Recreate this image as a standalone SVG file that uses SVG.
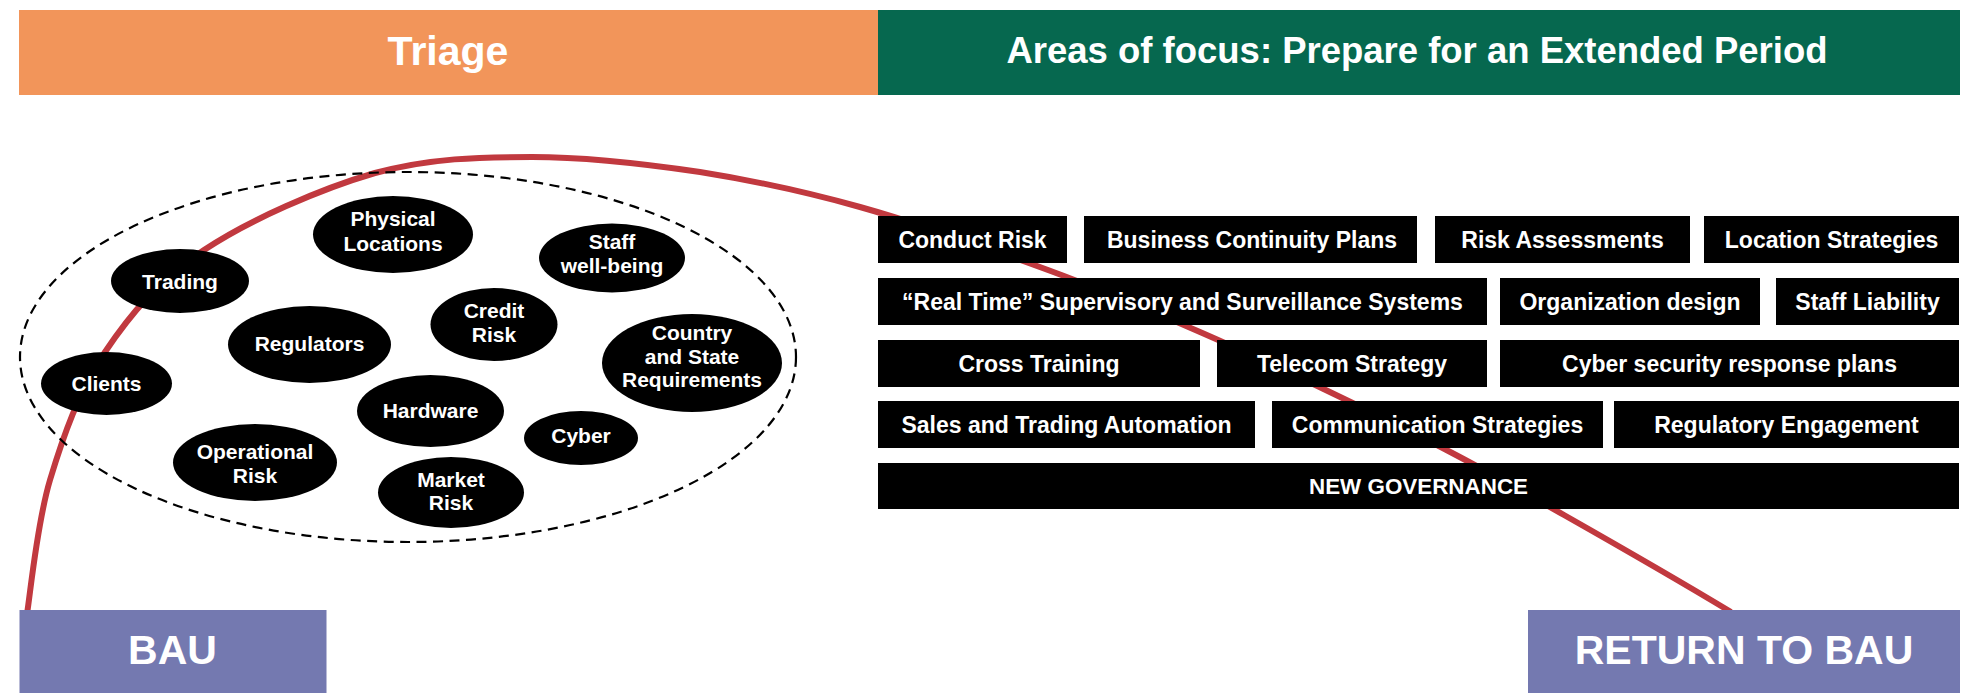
<svg xmlns="http://www.w3.org/2000/svg" width="1970" height="693" viewBox="0 0 1970 693">
<style>
text{font-family:"Liberation Sans",Arial,sans-serif;font-weight:bold;fill:#fff;text-anchor:middle}
.hdr{font-size:37px}
.bub{fill:#000}
.bt{font-size:21px}
.box{fill:#000}
.bx{font-size:23px}
.bau{fill:#7479B0}
.baut{font-size:41px}
.curve{fill:none;stroke:#C1393F;stroke-width:6}
.dash{fill:none;stroke:#000;stroke-width:2.2;stroke-dasharray:10 6.5}
</style>
<rect width="1970" height="693" fill="#fff"/>
<g id="triage">
<rect x="19" y="10" width="859" height="85" fill="#F2955A"/>
<text x="448" y="65" style="font-size:41px">Triage</text>
</g>
<g id="areas-of-focus">
<rect x="878" y="10" width="1082" height="85" fill="#06684F"/>
<text class="hdr" x="1417" y="63" textLength="821" lengthAdjust="spacingAndGlyphs">Areas of focus: Prepare for an Extended Period</text>
</g>
<g id="connectors">
<path class="curve" d="M27,614 C30.8,590 37,523.3 50,480 C63,436.7 79.3,390.3 105,352 C130.7,313.7 159,280 204,250 C249,220 320,189 375,173 C430,158 479.8,157 532,157 C588.2,157 645.7,164 700,172 C754.3,180.7 802,190.7 860,207 C918,223.3 991.3,249.2 1048,270 C1104.7,290.8 1152.3,311.3 1200,332 C1247.7,352.7 1291.3,373.5 1334,394 C1376.7,414.5 1417.7,434.8 1456,455 C1494.3,475.2 1518.5,489.2 1564,515 C1609.5,540.8 1701.5,594.2 1731,612"/>
</g>
<g id="triage-group">
<ellipse class="dash" cx="408" cy="357" rx="388" ry="185"/>
</g>
<g id="physical-locations"><ellipse class="bub" cx="393" cy="234.5" rx="80" ry="38.5"/><text class="bt" x="393" y="226">Physical</text><text class="bt" x="393" y="251">Locations</text></g>
<g id="staff-well-being"><ellipse class="bub" cx="612" cy="258" rx="73" ry="34.5"/><text class="bt" x="612" y="249">Staff</text><text class="bt" x="612" y="273">well-being</text></g>
<g id="trading"><ellipse class="bub" cx="180" cy="281" rx="69" ry="32"/><text class="bt" x="180" y="288.5">Trading</text></g>
<g id="credit-risk"><ellipse class="bub" cx="494" cy="324.5" rx="63.5" ry="36.5"/><text class="bt" x="494" y="318">Credit</text><text class="bt" x="494" y="342">Risk</text></g>
<g id="regulators"><ellipse class="bub" cx="309.5" cy="344.5" rx="81.5" ry="38.5"/><text class="bt" x="309.5" y="351">Regulators</text></g>
<g id="country-state"><ellipse class="bub" cx="692" cy="363" rx="90" ry="49"/><text class="bt" x="692" y="340">Country</text><text class="bt" x="692" y="363.5">and State</text><text class="bt" x="692" y="387">Requirements</text></g>
<g id="clients"><ellipse class="bub" cx="106.5" cy="383.5" rx="65.5" ry="31.5"/><text class="bt" x="106.5" y="391">Clients</text></g>
<g id="hardware"><ellipse class="bub" cx="430.5" cy="411" rx="73.5" ry="36"/><text class="bt" x="430.5" y="418">Hardware</text></g>
<g id="cyber"><ellipse class="bub" cx="581" cy="438" rx="57" ry="27"/><text class="bt" x="581" y="443">Cyber</text></g>
<g id="operational-risk"><ellipse class="bub" cx="255" cy="462.5" rx="82" ry="38.5"/><text class="bt" x="255" y="459">Operational</text><text class="bt" x="255" y="482.5">Risk</text></g>
<g id="market-risk"><ellipse class="bub" cx="451" cy="492.5" rx="73" ry="35.5"/><text class="bt" x="451" y="487">Market</text><text class="bt" x="451" y="510">Risk</text></g>

<g id="conduct-risk"><rect class="box" x="878" y="216" width="189" height="47"/><text class="bx" x="972.5" y="247.5">Conduct Risk</text></g>
<g id="business-continuity"><rect class="box" x="1084" y="216" width="333" height="47"/><text class="bx" x="1252" y="247.5">Business Continuity Plans</text></g>
<g id="risk-assessments"><rect class="box" x="1435" y="216" width="255" height="47"/><text class="bx" x="1562.5" y="247.5">Risk Assessments</text></g>
<g id="location-strategies"><rect class="box" x="1704" y="216" width="255" height="47"/><text class="bx" x="1831.5" y="247.5">Location Strategies</text></g>

<g id="real-time"><rect class="box" x="878" y="278" width="609" height="47"/><text class="bx" x="1182.5" y="309.5">“Real Time” Supervisory and Surveillance Systems</text></g>
<g id="organization-design"><rect class="box" x="1500" y="278" width="260" height="47"/><text class="bx" x="1630" y="309.5">Organization design</text></g>
<g id="staff-liability"><rect class="box" x="1776" y="278" width="183" height="47"/><text class="bx" x="1867.5" y="309.5">Staff Liability</text></g>

<g id="cross-training"><rect class="box" x="878" y="340" width="322" height="47"/><text class="bx" x="1039" y="371.5">Cross Training</text></g>
<g id="telecom-strategy"><rect class="box" x="1217" y="340" width="270" height="47"/><text class="bx" x="1352" y="371.5">Telecom Strategy</text></g>
<g id="cyber-security"><rect class="box" x="1500" y="340" width="459" height="47"/><text class="bx" x="1729.5" y="371.5">Cyber security response plans</text></g>

<g id="sales-trading"><rect class="box" x="878" y="401" width="377" height="47"/><text class="bx" x="1066.5" y="432.5">Sales and Trading Automation</text></g>
<g id="communication"><rect class="box" x="1272" y="401" width="331" height="47"/><text class="bx" x="1437.5" y="432.5">Communication Strategies</text></g>
<g id="regulatory-engagement"><rect class="box" x="1614" y="401" width="345" height="47"/><text class="bx" x="1786.5" y="432.5">Regulatory Engagement</text></g>

<g id="new-governance"><rect class="box" x="878" y="463" width="1081" height="46"/><text x="1418.5" y="494" style="font-size:22.5px" textLength="219" lengthAdjust="spacingAndGlyphs">NEW GOVERNANCE</text></g>

<g id="bau"><rect class="bau" x="19.5" y="610" width="307" height="83"/><text class="baut" x="172.5" y="664">BAU</text></g>
<g id="return-to-bau"><rect class="bau" x="1528" y="610" width="432" height="83"/><text class="baut" x="1744" y="664">RETURN TO BAU</text></g>
</svg>
